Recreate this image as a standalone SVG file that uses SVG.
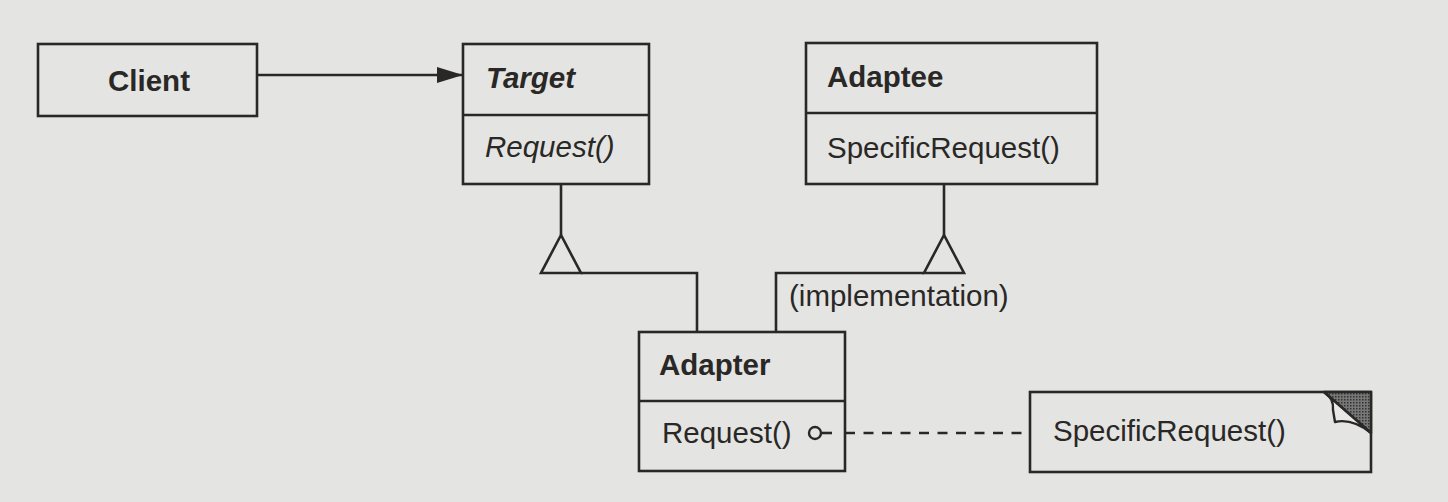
<svg xmlns="http://www.w3.org/2000/svg" width="1448" height="502" viewBox="0 0 1448 502">
<defs>
<style>
.box{fill:none;stroke:#2a2826;stroke-width:2.6}
.ln{fill:none;stroke:#2a2826;stroke-width:2.6}
.t{font-family:"Liberation Sans",Arial,Helvetica,sans-serif;font-size:29.5px;fill:#2a2826}
.b{font-weight:bold}
.i{font-style:italic}
.tri{fill:#e4e4e2;stroke:#2a2826;stroke-width:2.6;stroke-linejoin:miter}
</style>
<marker id="arrow" markerWidth="26" markerHeight="16" refX="26" refY="8" orient="auto" markerUnits="userSpaceOnUse">
<path d="M0,0 L26,8 L0,16 Z" fill="#2a2826"/>
</marker>
<pattern id="stip" width="3" height="3" patternUnits="userSpaceOnUse">
<rect width="3" height="3" fill="#777"/>
<rect width="1.5" height="1.5" fill="#333"/>
</pattern>
</defs>
<rect x="0" y="0" width="1448" height="502" fill="#e4e4e2"/>

<g id="connectors">
<line class="ln" x1="257" y1="75" x2="463" y2="75" marker-end="url(#arrow)"/>
<polyline class="ln" points="561,184 561,235"/>
<polyline class="ln" points="581,273 697,273 697,332"/>
<polygon class="tri" points="561,235 541,273 581,273"/>
<polyline class="ln" points="944,184 944,235"/>
<polyline class="ln" points="924,273 776,273 776,332"/>
<polygon class="tri" points="944,235 924,273 964,273"/>
<text class="t" x="789" y="306">(implementation)</text>
<circle cx="815" cy="433" r="6" fill="none" stroke="#2a2826" stroke-width="2.4"/>
<line class="ln" x1="821" y1="433" x2="832" y2="433"/>
<line class="ln" x1="845" y1="433" x2="1030" y2="433" stroke-dasharray="10 8.5"/>
</g>

<g id="client">
<rect class="box" x="38" y="44" width="219" height="72"/>
<text class="t b" x="149" y="91" text-anchor="middle">Client</text>
</g>

<g id="target">
<rect class="box" x="463" y="44" width="186" height="140"/>
<line class="ln" x1="463" y1="115" x2="649" y2="115"/>
<text class="t b i" x="486" y="88">Target</text>
<text class="t i" x="485" y="157">Request()</text>
</g>

<g id="adaptee">
<rect class="box" x="806" y="43" width="291" height="141"/>
<line class="ln" x1="806" y1="113" x2="1097" y2="113"/>
<text class="t b" x="827" y="87">Adaptee</text>
<text class="t" x="827" y="158">SpecificRequest()</text>
</g>

<g id="adapter">
<rect class="box" x="639" y="332" width="206" height="139"/>
<line class="ln" x1="639" y1="401" x2="845" y2="401"/>
<text class="t b" x="659" y="375">Adapter</text>
<text class="t" x="662" y="443">Request()</text>
</g>

<g id="note">
<rect class="box" x="1030" y="392" width="341" height="80"/>
<path d="M1324,392 H1371 V433 Z" fill="url(#stip)" stroke="#2a2826" stroke-width="2.4" stroke-linejoin="round"/>
<path d="M1324,392 Q1334,398 1333,410 L1335,422 Q1352,418 1371,433 Z" fill="#e8e8e6" stroke="#2a2826" stroke-width="2.4" stroke-linejoin="round"/>
<text class="t" x="1053" y="441">SpecificRequest()</text>
</g>
</svg>
